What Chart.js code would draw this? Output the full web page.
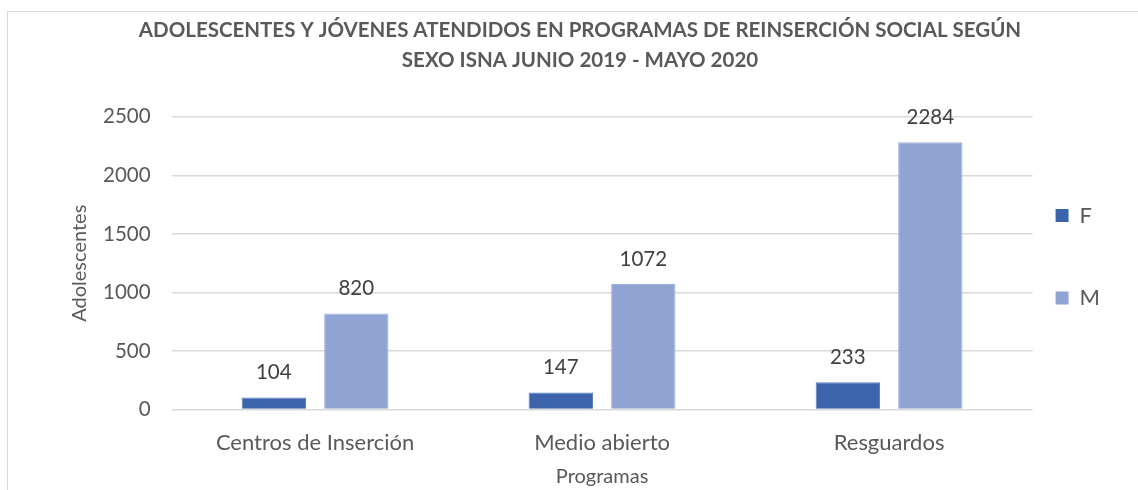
<!DOCTYPE html>
<html>
<head>
<meta charset="utf-8">
<script src="https://cdn.jsdelivr.net/npm/chart.js@4.4.1/dist/chart.umd.min.js"></script>
<style>
  html, body { margin: 0; padding: 0; background: #ffffff; }
  #frame { position: absolute; left: 7px; top: 11px; width: 1140px; height: 490px;
           border-left: 1px solid #d9d9d9; border-top: 1px solid #d9d9d9; }
  #wrap { position: absolute; left: 0; top: 0; width: 1138px; height: 490px; }
</style>
</head>
<body>
<div id="frame"></div>
<div id="wrap"><canvas id="c" width="1138" height="490"></canvas></div>
<script>
const titleLines = ['ADOLESCENTES Y JÓVENES ATENDIDOS EN PROGRAMAS DE REINSERCIÓN SOCIAL SEGÚN', 'SEXO ISNA JUNIO 2019 - MAYO 2020'];
const categories = ['Centros de Inserción', 'Medio abierto', 'Resguardos'];
const seriesNames = ['F', 'M'];
const valuesF = [104, 147, 233];
const valuesM = [820, 1072, 2284];
const yTicks = [0, 500, 1000, 1500, 2000, 2500];
const xTitle = 'Programas';
const yTitle = 'Adolescentes';

const FONT = 'Lato, "Open Sans", sans-serif';
const TEXT = '#595959';

const dataLabels = {
  id: 'dataLabels',
  afterDatasetsDraw(chart) {
    const ctx = chart.ctx;
    ctx.save();
    ctx.font = '20.5px ' + FONT;
    ctx.fillStyle = '#404040';
    ctx.textAlign = 'center';
    ctx.textBaseline = 'middle';
    chart.data.datasets.forEach((ds, i) => {
      chart.getDatasetMeta(i).data.forEach((bar, j) => {
        ctx.fillText(String(ds.data[j]), bar.x, bar.y - 25);
      });
    });
    ctx.restore();
  }
};

new Chart(document.getElementById('c'), {
  type: 'bar',
  data: {
    labels: categories,
    datasets: [
      { label: seriesNames[0], data: valuesF, backgroundColor: '#3c64ad', borderColor: '#5b7fc0', borderWidth: 1,
        categoryPercentage: 0.575, barPercentage: 0.78 },
      { label: seriesNames[1], data: valuesM, backgroundColor: '#90a4d4', borderColor: '#a3b4dc', borderWidth: 1,
        categoryPercentage: 0.575, barPercentage: 0.78 }
    ]
  },
  options: {
    responsive: false,
    animation: false,
    devicePixelRatio: 1,
    layout: { padding: { left: 50, right: 28, top: 0, bottom: 1 } },
    plugins: {
      title: {
        display: true, text: titleLines, color: TEXT,
        font: { family: FONT, size: 20.5, weight: 'bold', lineHeight: 1.46 },
        padding: { top: 15, bottom: 42 }
      },
      legend: {
        position: 'right',
        title: { display: true, text: '', font: { family: FONT, size: 10, lineHeight: 1.2 }, padding: 25 },
        labels: {
          color: TEXT, boxWidth: 13, boxHeight: 13, padding: 23,
          font: { family: FONT, size: 22, lineHeight: 1.35 },
          generateLabels(chart) {
            return chart.data.datasets.map((ds, i) => ({
              text: [ds.label, ''], fillStyle: ds.backgroundColor, strokeStyle: ds.backgroundColor,
              lineWidth: 0, fontColor: TEXT, datasetIndex: i, hidden: false
            }));
          }
        }
      },
      tooltip: { enabled: false }
    },
    scales: {
      x: {
        grid: { display: false, drawTicks: false },
        border: { display: false },
        ticks: { color: TEXT, font: { family: FONT, size: 22 }, padding: 20 },
        title: { display: true, text: xTitle, color: TEXT, font: { family: FONT, size: 20 }, padding: { top: -11, bottom: 0 } }
      },
      y: {
        min: 0, max: 2500,
        afterBuildTicks(scale) { scale.ticks = yTicks.map(v => ({ value: v })); },
        grid: { color: '#d9d9d9', lineWidth: 1.5, drawTicks: false },
        border: { display: false },
        ticks: { color: TEXT, font: { family: FONT, size: 20.5 }, padding: 21, callback: v => String(v) },
        title: { display: true, text: yTitle, color: TEXT, font: { family: FONT, size: 20 }, padding: { top: 18, bottom: -10 } }
      }
    }
  },
  plugins: [dataLabels]
});
</script>
</body>
</html>
